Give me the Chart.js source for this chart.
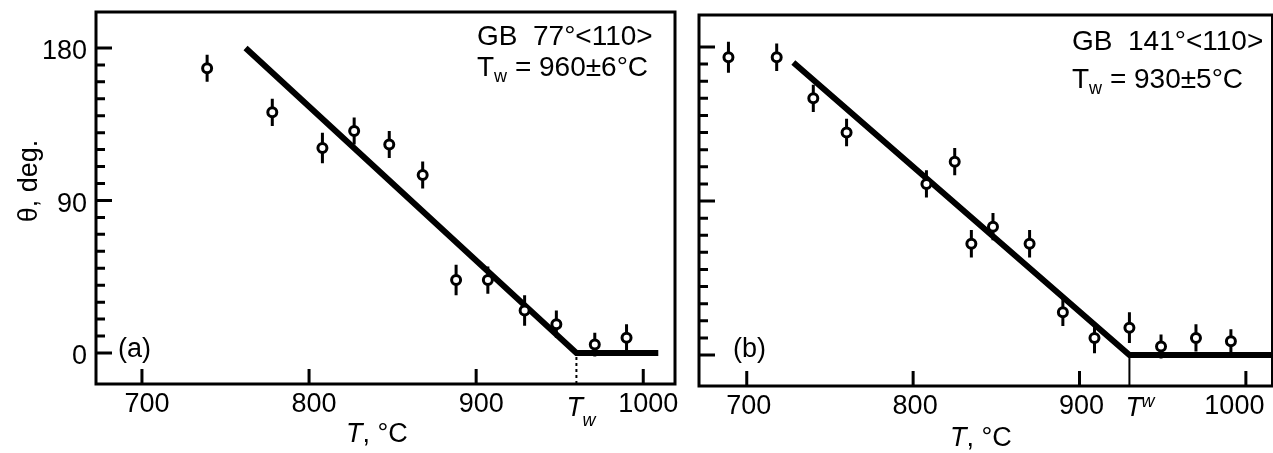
<!DOCTYPE html>
<html>
<head>
<meta charset="utf-8">
<script src="https://cdn.jsdelivr.net/npm/chart.js@4.4.1/dist/chart.umd.min.js"></script>
<style>
  html, body { margin: 0; padding: 0; background: #fff; overflow: hidden; width: 1273px; height: 453px; }
  canvas { position: absolute; top: 0; }
  #panel-a { left: 0; }
  #panel-b { left: 680px; }
</style>
</head>
<body>
<canvas id="panel-a" width="690" height="453"></canvas>
<canvas id="panel-b" width="600" height="453"></canvas>
<script>
// Two panels: misorientation angle vs temperature, wetting transition at Tw.

const FONT = "'Liberation Sans', Arial, Helvetica, sans-serif";

const yTickValues  = [0, 10, 20, 30, 40, 50, 60, 70, 80, 90, 100, 110, 120, 130, 140, 150, 160, 170, 180];
const yLabelValues = [0, 90, 180];
const xTickValues  = [700, 800, 900, 1000];

// panel (a) — GB 77°<110>
const tempA  = [739, 778, 808, 827, 848, 868, 888, 907, 929, 948, 971, 990];
const thetaA = [168, 142, 121, 131, 123, 105, 43, 43, 25, 17, 5, 9];
const errA   = [8, 8, 9, 8, 8, 8, 9, 8, 9, 8, 7, 8];
const fitTA  = [762, 960, 1009];
const fitThA = [180, 0, 0];
const twA    = 960;
const noteA  = ["GB  77°<110>", " = 960±6°C"];

// panel (b) — GB 141°<110>
const tempB  = [689, 718, 740, 760, 808, 825, 835, 848, 870, 890, 909, 930, 949, 970, 991];
const thetaB = [174, 174, 150, 130, 100, 113, 65, 75, 65, 25, 10, 16, 5, 10, 8];
const errB   = [9, 8, 8, 8, 8, 8, 8, 8, 8, 8, 9, 9, 7, 8, 7];
const fitTB  = [728, 930, 1016];
const fitThB = [171, 0, 0];
const twB    = 930;
const noteB  = ["GB  141°<110>", " = 930±5°C"];

function toXY(xs, ys) {
  return xs.map((x, i) => ({ x: x, y: ys[i] }));
}

function errorSegments(temps, thetas, errs) {
  const pts = [];
  temps.forEach((t, i) => {
    pts.push({ x: t, y: thetas[i] - errs[i] });
    pts.push({ x: t, y: thetas[i] + errs[i] });
    pts.push({ x: t, y: null });
  });
  return pts;
}

// frame, inward ticks, Tw marker and all free text
const decor = {
  id: "decor",
  afterDatasetsDraw(chart, _args, o) {
    const { ctx, chartArea: a } = chart;
    const x = chart.scales.x, y = chart.scales.y;
    ctx.save();
    ctx.strokeStyle = "#000";
    ctx.fillStyle = "#000";
    ctx.lineCap = "butt";

    ctx.lineWidth = 3;
    ctx.strokeRect(a.left, a.top, a.right - a.left, a.bottom - a.top);

    ctx.beginPath();
    y.ticks.forEach((t) => {
      const py = y.getPixelForValue(t.value);
      const len = yLabelValues.includes(t.value) ? 16 : 9;
      ctx.moveTo(a.left, py);
      ctx.lineTo(a.left + len, py);
    });
    x.ticks.forEach((t) => {
      const px = x.getPixelForValue(t.value);
      ctx.moveTo(px, a.bottom);
      ctx.lineTo(px, a.bottom - 15);
    });
    ctx.stroke();

    // Tw marker on the x axis
    const tx = x.getPixelForValue(o.tw);
    ctx.lineWidth = 2;
    ctx.setLineDash(o.dash);
    ctx.beginPath();
    ctx.moveTo(tx, a.bottom);
    ctx.lineTo(tx, y.getPixelForValue(0) + 3);
    ctx.stroke();
    ctx.setLineDash([]);

    ctx.textBaseline = "alphabetic";
    ctx.textAlign = "left";
    ctx.font = "italic 27px " + FONT;
    ctx.fillText("T", tx + o.twDx, 416);
    ctx.font = "italic 18px " + FONT;
    ctx.fillText("w", tx + o.twDx + 16, 416 + o.twSub);

    // x title
    ctx.font = "italic 27px " + FONT;
    ctx.fillText("T", o.xTitle[0], o.xTitle[1]);
    const tw = ctx.measureText("T").width;
    ctx.font = "27px " + FONT;
    ctx.fillText(", °C", o.xTitle[0] + tw, o.xTitle[1]);

    // y title
    if (o.yTitle) {
      ctx.save();
      ctx.translate(o.yTitle[0], o.yTitle[1]);
      ctx.rotate(-Math.PI / 2);
      ctx.textAlign = "center";
      ctx.textBaseline = "middle";
      ctx.font = "27px " + FONT;
      ctx.fillText("θ, deg.", 0, 0);
      ctx.restore();
    }

    // panel tag
    ctx.font = "27px " + FONT;
    ctx.fillText(o.tag, o.tagPos[0], o.tagPos[1]);

    // GB note
    const [nx, b1, b2] = o.notePos;
    ctx.font = "28px " + FONT;
    ctx.fillText(o.note[0], nx, b1);
    ctx.fillText("T", nx, b2);
    const w1 = ctx.measureText("T").width;
    ctx.font = "18px " + FONT;
    ctx.fillText("w", nx + w1, b2 + 6);
    const w2 = ctx.measureText("w").width;
    ctx.font = "28px " + FONT;
    ctx.fillText(o.note[1], nx + w1 + w2, b2);

    ctx.restore();
  },
};

function makePanel(id, p) {
  return new Chart(document.getElementById(id), {
    type: "scatter",
    data: {
      datasets: [
        {
          type: "scatter",
          data: toXY(p.temps, p.thetas),
          pointRadius: 4.5,
          pointBorderWidth: 3,
          pointBackgroundColor: "#fff",
          pointBorderColor: "#000",
          order: 0,
        },
        {
          type: "line",
          data: errorSegments(p.temps, p.thetas, p.errs),
          borderColor: "#000",
          borderWidth: 3,
          pointRadius: 0,
          spanGaps: false,
          order: 1,
        },
        {
          type: "line",
          data: toXY(p.fitT, p.fitTh),
          borderColor: "#000",
          borderWidth: 6,
          pointRadius: 0,
          borderJoinStyle: "miter",
          order: 2,
        },
      ],
    },
    options: {
      responsive: false,
      animation: false,
      devicePixelRatio: 1,
      layout: { padding: p.pad },
      plugins: {
        legend: { display: false },
        tooltip: { enabled: false },
        decor: p.decor,
      },
      scales: {
        x: {
          type: "linear",
          min: p.xMin,
          max: p.xMax,
          afterBuildTicks: (s) => { s.ticks = xTickValues.map((v) => ({ value: v })); },
          afterFit: (s) => {
            s.height = p.xHeight;
            s.paddingLeft = 0;
            s.paddingRight = 0;
          },
          grid: { display: false, drawTicks: false },
          border: { display: false },
          ticks: {
            color: "#000",
            font: { family: FONT, size: 27 },
            padding: 4,
            labelOffset: p.xLabelOffset,
            maxRotation: 0,
            autoSkip: false,
            // the last label of panel (b) sits left of its tick, as in the print
            callback: (v) => (p.padLast && v === 1000 ? "1000\u2003" : String(v)),
          },
        },
        y: {
          type: "linear",
          min: p.yMin,
          max: p.yMax,
          afterBuildTicks: (s) => { s.ticks = yTickValues.map((v) => ({ value: v })); },
          afterFit: (s) => {
            s.width = p.yWidth;
            s.paddingTop = 0;
            s.paddingBottom = 0;
          },
          grid: { display: false, drawTicks: false },
          border: { display: false },
          ticks: {
            color: "#000",
            font: { family: FONT, size: 27 },
            padding: 9,
            labelOffset: 4,
            autoSkip: false,
            callback: (v) => (p.yLabels && yLabelValues.includes(v) ? String(v) : ""),
          },
        },
      },
    },
    plugins: [decor],
  });
}

makePanel("panel-a", {
  temps: tempA, thetas: thetaA, errs: errA, fitT: fitTA, fitTh: fitThA,
  xMin: 672.5, xMax: 1019, yMin: -18.3, yMax: 201.2,
  pad: { left: 0, top: 12, right: 15, bottom: 0 },
  xHeight: 69, yWidth: 96, yLabels: true, xLabelOffset: 5, padLast: false,
  decor: {
    tw: twA, dash: [3, 3], twDx: -10, twSub: 10,
    xTitle: [346, 442], yTitle: [30, 181],
    tag: "(a)", tagPos: [118, 357],
    note: noteA, notePos: [477, 45, 76],
  },
});

makePanel("panel-b", {
  temps: tempB, thetas: thetaB, errs: errB, fitT: fitTB, fitTh: fitThB,
  xMin: 671.3, xMax: 1016, yMin: -18.1, yMax: 198.7,
  pad: { left: 0, top: 15, right: 4, bottom: 0 },
  xHeight: 67, yWidth: 19, yLabels: false, xLabelOffset: 2, padLast: true,
  decor: {
    tw: twB, dash: [], twDx: -4, twSub: -9,
    xTitle: [270, 446], yTitle: null,
    tag: "(b)", tagPos: [53, 357],
    note: noteB, notePos: [392, 50, 88],
  },
});
</script>
</body>
</html>
